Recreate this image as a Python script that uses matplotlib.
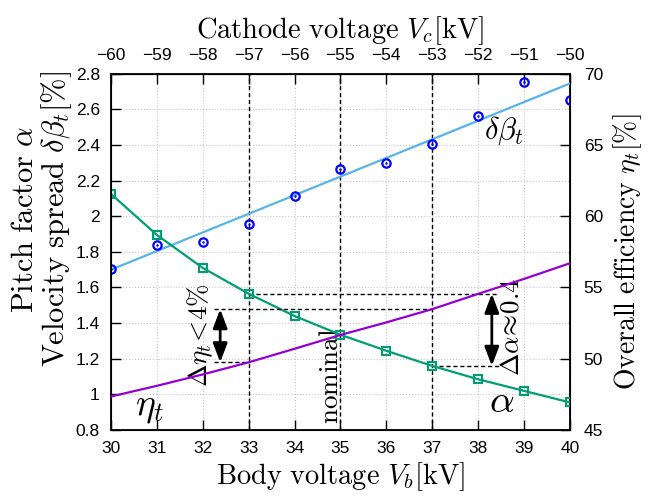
import matplotlib.pyplot as plt
from matplotlib.ticker import FormatStrFormatter

plt.rcParams['mathtext.fontset'] = 'cm'
plt.rcParams['font.family'] = ['Liberation Sans', 'DejaVu Sans']

# body voltage [kV]
body_v = [30, 31, 32, 33, 34, 35, 36, 37, 38, 39, 40]
# pitch factor alpha
pitch_alpha = [2.125, 1.895, 1.71, 1.565, 1.44, 1.335, 1.245, 1.16, 1.085, 1.02, 0.955]
# velocity spread delta beta_t [%]
spread_db = [1.703, 1.84, 1.855, 1.956, 2.113, 2.263, 2.297, 2.403, 2.562, 2.752, 2.65]
# linear fit of the spread
fit_v = [30, 40]
fit_db = [1.70, 2.745]
# overall efficiency eta_t [%]
eff_eta = [47.35, 48.1, 48.9, 49.75, 50.7, 51.67, 52.55, 53.48, 54.55, 55.6, 56.7]

# operating range marks
v_low, v_nom, v_high = 33, 35, 37
i_low, i_high = body_v.index(v_low), body_v.index(v_high)

fig = plt.figure(figsize=(6.49, 4.98), dpi=100)
ax = fig.add_axes([0.171, 0.1365, 0.707, 0.7155])
ax2 = ax.twinx()

ax.set_xlim(30, 40)
ax.set_ylim(0.8, 2.8)
ax2.set_ylim(45, 70)

ax.set_xticks(body_v)
ax.set_yticks([0.8 + 0.2 * i for i in range(11)])
ax.yaxis.set_major_formatter(FormatStrFormatter('%g'))
ax2.set_yticks([45, 50, 55, 60, 65, 70])
ax.grid(color='#c8c8c8', ls=':', lw=0.8)

ax.tick_params(direction='in', length=7, width=1, labelsize=12.5, pad=8, top=True)
ax2.tick_params(direction='in', length=7, width=1, labelsize=12.5, pad=10)
for sp in ax.spines.values():
    sp.set_linewidth(1.3)

# top axis: cathode voltage
top = ax.secondary_xaxis('top', functions=(lambda x: x - 90, lambda x: x + 90))
top.set_xticks([v - 90 for v in body_v])
top.tick_params(direction='in', length=0, labelsize=12.5, pad=8)
top.set_xlabel(r'$\mathrm{Cathode\ voltage}\ V_c[\mathrm{kV}]$', fontsize=20.5, labelpad=7)

ax.set_xlabel(r'$\mathrm{Body\ voltage}\ V_b[\mathrm{kV}]$', fontsize=20.5, labelpad=3)
ax2.set_ylabel(r'$\mathrm{Overall\ efficiency}\ \eta_t[\%]$', fontsize=20, labelpad=6)
fig.text(0.038, 0.56, r'$\mathrm{Pitch\ factor}\ \alpha$', fontsize=22,
         rotation=90, ha='center', va='center')
fig.text(0.087, 0.56, r'$\mathrm{Velocity\ spread}\ \delta\beta_t[\%]$', fontsize=22,
         rotation=90, ha='center', va='center')

# data
ax.plot(fit_v, fit_db, color='#56b4e9', lw=1.6, zorder=3)
ax.plot(body_v, spread_db, ls='none', marker='o', ms=6, mfc='none', mec='#0000ff',
        mew=1.6, zorder=4)
ax.plot(body_v, spread_db, ls='none', marker='.', ms=1.5, color='#0000ff', zorder=4)
ax.plot(body_v, pitch_alpha, color='#009e73', lw=1.6, marker='s', ms=6, mfc='none',
        mew=1.5, zorder=4)
ax2.plot(body_v, eff_eta, color='#9400d3', lw=1.6, zorder=3)

# operating range
for v in (v_low, v_nom, v_high):
    ax.axvline(v, color='black', ls=(0, (3, 2)), lw=1, zorder=2)

dash = dict(color='black', ls=(0, (3, 2)), lw=1, zorder=2)
ax.plot([v_low, 38.45], [pitch_alpha[i_low]] * 2, **dash)
ax.plot([v_high, 38.45], [pitch_alpha[i_high]] * 2, **dash)
ax2.plot([32.25, v_high], [eff_eta[i_high]] * 2, **dash)
ax2.plot([32.25, v_low], [eff_eta[i_low]] * 2, **dash)

arrow = dict(arrowstyle='<|-|>,head_length=0.95,head_width=0.36', color='black',
             lw=2, shrinkA=0, shrinkB=0, mutation_scale=12)
ax2.annotate('', xy=(32.38, eff_eta[i_high]), xytext=(32.38, eff_eta[i_low]),
             arrowprops=arrow)
ax.annotate('', xy=(38.3, pitch_alpha[i_low]), xytext=(38.3, pitch_alpha[i_high]),
            arrowprops=arrow)

ax.text(31.94, 1.33, r'$\Delta\eta_t\!<\!4\%$', fontsize=19.5, rotation=90,
        ha='center', va='center')
ax.text(38.73, 1.38, r'$\Delta\alpha\!\approx\!0.4$', fontsize=19.5, rotation=90,
        ha='center', va='center')
ax.text(34.79, 1.105, r'$\mathrm{nominal}$', fontsize=19.5, rotation=90,
        ha='center', va='center')
ax.text(38.56, 2.48, r'$\delta\beta_t$', fontsize=22, ha='center', va='center')
ax.text(30.85, 0.93, r'$\eta_t$', fontsize=27, ha='center', va='center')
ax.text(38.52, 0.96, r'$\alpha$', fontsize=28, ha='center', va='center')

fig.savefig('out.png', dpi=100)
